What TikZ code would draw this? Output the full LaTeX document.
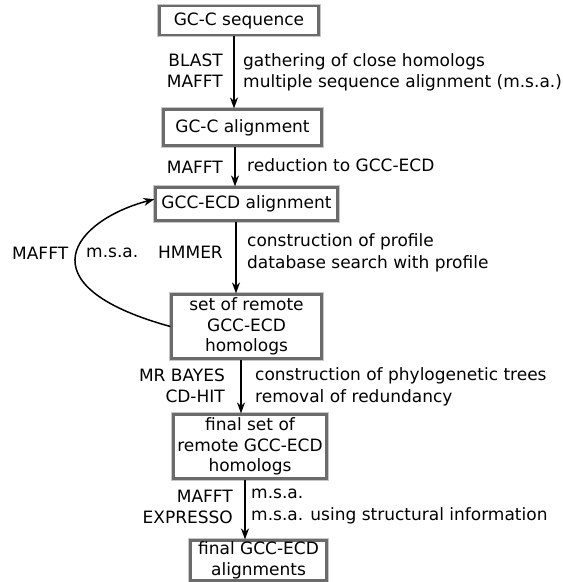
\documentclass[tikz,border=0pt]{standalone}
\usepackage{fontspec}
\setmainfont{DejaVu Sans}
\usetikzlibrary{arrows.meta}
\tikzset{
  box/.style={rectangle, fill=white, draw=black!58, line width=2.2pt,
    preaction={draw=black!22, line width=4.6pt},
    inner sep=0pt, align=center, font=\fontsize{17}{20.5}\selectfont},
  lbl/.style={inner sep=0pt, font=\fontsize{17}{21.5}\selectfont},
  lleft/.style={lbl, anchor=base east, align=right},
  lright/.style={lbl, anchor=base west, align=left},
  arr/.style={line width=1.5pt, -{Stealth[length=11pt,width=8pt,inset=3.5pt]}},
}
\begin{document}
\begin{tikzpicture}[x=1pt,y=-1pt]
\useasboundingbox[fill=white] (0,0) rectangle (563,582);
% boxes
\node[box, minimum width=159pt, minimum height=29pt] (b1) at (239,20.5) {GC-C sequence};
\node[box, minimum width=158pt, minimum height=36pt] (b2) at (242.5,127.5) {GC-C alignment};
\node[box, minimum width=182pt, minimum height=33pt] (b3) at (246.5,204) {GCC-ECD alignment};
\node[box, minimum width=150pt, minimum height=64pt] (b4) at (246.5,326.5) {set of remote\\GCC-ECD\\homologs};
\node[box, minimum width=153pt, minimum height=64pt] (b5) at (250,446.5) {final set of\\remote GCC-ECD\\homologs};
\node[box, minimum width=136pt, minimum height=40pt] (b6) at (258.5,560.5) {final GCC-ECD\\alignments};
% arrow columns
\coordinate (a1) at (234,0);
\coordinate (a2) at (235,0);
\coordinate (a3) at (236,0);
\coordinate (a4) at (241,0);
\coordinate (a5) at (245,0);
\draw[arr] (b1.south -| a1) -- (b2.north -| a1);
\draw[arr] (b2.south -| a2) -- (b3.north -| a2);
\draw[arr] (b3.south -| a3) -- (b4.north -| a3);
\draw[arr] (b4.south -| a4) -- (b5.north -| a4);
\draw[arr] (b5.south -| a5) -- (b6.north -| a5);
% loop
\draw[arr] (b4.west) .. controls (20,285) and (75,220) .. (b3.177);
% labels (base = baseline of last line)
\node[lleft] (l1) at (223,87.5) {BLAST\\MAFFT};
\node[lright] (r1) at (243,87.5) {gathering of close homologs\\multiple sequence alignment (m.s.a.)};
\node[lleft] (l2) at (223,173) {MAFFT};
\node[lright] (r2) at (247,171) {reduction to GCC-ECD};
\node[lleft] (l3) at (223,258) {HMMER};
\node[lright] (r3) at (247,268) {construction of profile\\database search with profile};
\node[lleft] (l4) at (225,402.5) {MR BAYES\\CD-HIT};
\node[lright] (r4) at (255,402) {construction of phylogenetic trees\\removal of redundancy};
\node[lleft] (l5) at (233,523.5) {MAFFT\\EXPRESSO};
\node[lright] (r5) at (251,520) {m.s.a.\\m.s.a. using structural information};
\node[lright] (lm1) at (12,259) {MAFFT};
\node[lright] (lm2) at (86,257.5) {m.s.a.};
\end{tikzpicture}
\end{document}
